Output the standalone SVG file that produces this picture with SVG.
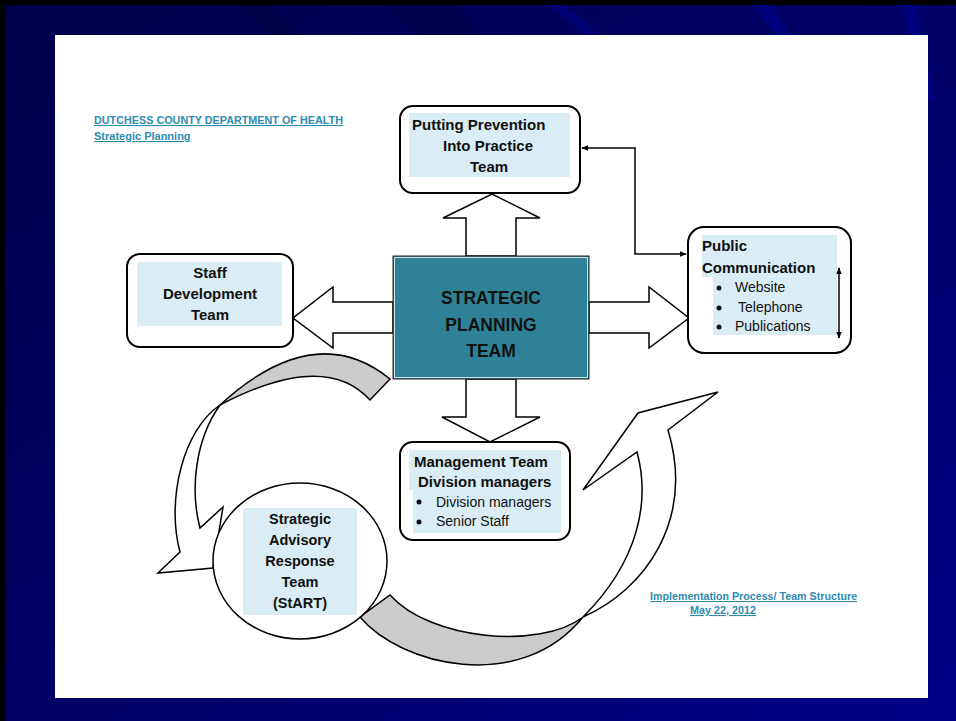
<svg xmlns="http://www.w3.org/2000/svg" width="956" height="721" viewBox="0 0 956 721">
<defs>
<linearGradient id="bg" x1="0" y1="0" x2="1" y2="1">
<stop offset="0" stop-color="#00004a"/>
<stop offset="0.5" stop-color="#000066"/>
<stop offset="1" stop-color="#000088"/>
</linearGradient>
<marker id="ah" viewBox="0 0 10 10" refX="9" refY="5" markerWidth="7" markerHeight="7" orient="auto-start-reverse" markerUnits="userSpaceOnUse">
<path d="M0,1 L10,5 L0,9 Z" fill="#000"/>
</marker>
<style>
.box{fill:#fff;stroke:#000;stroke-width:2}
.lb{fill:#daedf4}
.blk{fill:#fff;stroke:#000;stroke-width:1.5;stroke-linejoin:miter}
.rib{fill:#fff;stroke:#000;stroke-width:1.5;stroke-linejoin:miter}
.grey{fill:#cccccc;stroke:#000;stroke-width:1.5}
.t{font-family:"Liberation Sans",Arial,sans-serif;font-weight:bold;font-size:15px;fill:#111}
.big{font-size:17.5px}
.sm{font-size:14.5px}
.r{font-family:"Liberation Sans",Arial,sans-serif;font-size:14px;fill:#111}
.hd{font-family:"Liberation Sans",Arial,sans-serif;font-weight:bold;font-size:10.8px;fill:#2f8bb0;text-decoration:underline}
.ln{fill:none;stroke:#000;stroke-width:1.5}
</style>
</defs>
<rect x="0" y="0" width="956" height="721" fill="url(#bg)"/>
<g opacity="0.35">
<polygon points="230,0 260,0 300,35 270,35" fill="#000030"/>
<polygon points="380,0 450,0 480,35 420,35" fill="#00003a"/>
<polygon points="540,0 560,0 600,35 585,35" fill="#0000a0"/>
<polygon points="750,0 770,0 790,35 775,35" fill="#0000b0"/>
<polygon points="900,0 915,0 935,100 925,100" fill="#0000b0"/>
</g>
<rect x="0" y="0" width="956" height="5" fill="#000"/>
<rect x="0" y="0" width="5" height="721" fill="#000"/>
<rect x="55" y="35" width="873" height="663" fill="#fff"/>

<g id="header">
<text class="hd" x="94" y="124">DUTCHESS COUNTY DEPARTMENT OF HEALTH</text>
<text class="hd" x="94" y="140" style="font-size:11px">Strategic Planning</text>
</g>
<g id="footer">
<text class="hd" x="650" y="600" style="font-size:10.7px">Implementation Process/ Team Structure</text>
<text class="hd" x="690" y="614">May 22, 2012</text>
</g>

<g id="connectors">
<polygon class="blk" points="466,256 466,218 443,218 492,194 540,218 516,218 516,256"/>
<polygon class="blk" points="589,302 649,302 649,287 689,318 649,348 649,333 589,333"/>
<polygon class="blk" points="393,302 333,302 333,287 293,318 333,348 333,333 393,333"/>
<polygon class="blk" points="466,379 466,417 442,417 490,442 540,417 516,417 516,379"/>
<path class="ln" d="M582,148 H635 V254 H686" marker-start="url(#ah)" marker-end="url(#ah)"/>
<path class="grey" d="M390,379 Q315,318 220,405 Q325,350 370,400 Z"/>
<path class="rib" d="M220,405 C183,430 166,500 180,552 L158,573 L213,568 L223,507 L200,528 C190,490 195,440 220,405 Z"/>
<path class="grey" d="M360,617 C400,665 520,695 583,617 C540,650 430,640 390,595 Z"/>
<path class="rib" d="M583,617 C645,590 695,520 668,430 L718,392 L638,413 L583,490 L637,452 C650,500 640,560 583,617 Z"/>
</g>

<g id="center">
<rect x="393" y="256" width="196" height="123" fill="#2e8196" stroke="#222" stroke-width="1"/>
<rect x="394.5" y="257.5" width="193" height="120" fill="none" stroke="#cfe3ea" stroke-width="1"/>
<text class="t big" x="491" y="304" text-anchor="middle">STRATEGIC</text>
<text class="t big" x="491" y="331" text-anchor="middle">PLANNING</text>
<text class="t big" x="491" y="357" text-anchor="middle">TEAM</text>
</g>

<g id="pipt">
<rect class="box" x="400" y="106" width="180" height="87" rx="13"/>
<rect class="lb" x="409" y="113" width="161" height="64"/>
<text class="t" x="412" y="130">Putting Prevention</text>
<text class="t" x="443" y="151">Into Practice</text>
<text class="t" x="470" y="172">Team</text>
</g>

<g id="staff">
<rect class="box" x="127" y="254" width="166" height="93" rx="13"/>
<rect class="lb" x="137" y="262" width="145" height="64"/>
<text class="t" x="210" y="278" text-anchor="middle">Staff</text>
<text class="t" x="210" y="299" text-anchor="middle">Development</text>
<text class="t" x="210" y="320" text-anchor="middle">Team</text>
</g>

<g id="public">
<rect class="box" x="688" y="227" width="163" height="126" rx="16"/>
<path class="lb" d="M702,235 H837 V335 H713 V277 H702 Z"/>
<text class="t" x="702" y="251">Public</text>
<text class="t" x="702" y="273">Communication</text>
<circle cx="719" cy="288" r="2.5" fill="#111"/>
<circle cx="719" cy="308" r="2.5" fill="#111"/>
<circle cx="719" cy="327" r="2.5" fill="#111"/>
<text class="r" x="735" y="292">Website</text>
<text class="r" x="738" y="312">Telephone</text>
<text class="r" x="735" y="331">Publications</text>
<path class="ln" d="M839,268 V338" marker-start="url(#ah)" marker-end="url(#ah)"/>
</g>

<g id="management">
<rect class="box" x="400" y="442" width="170" height="98" rx="13"/>
<path class="lb" d="M409,450 H561 V533 H413 V490 H409 Z"/>
<text class="t" x="414" y="467">Management Team</text>
<text class="t" x="418" y="487">Division managers</text>
<circle cx="419" cy="502" r="2.5" fill="#111"/>
<circle cx="419" cy="522" r="2.5" fill="#111"/>
<text class="r" x="436" y="507">Division managers</text>
<text class="r" x="436" y="526">Senior Staff</text>
</g>

<g id="start">
<ellipse cx="300" cy="561" rx="87" ry="78" fill="#fff" stroke="#000" stroke-width="1.5"/>
<rect class="lb" x="243" y="508" width="114" height="107"/>
<text class="t sm" x="300" y="524" text-anchor="middle">Strategic</text>
<text class="t sm" x="300" y="545" text-anchor="middle">Advisory</text>
<text class="t sm" x="300" y="566" text-anchor="middle">Response</text>
<text class="t sm" x="300" y="587" text-anchor="middle">Team</text>
<text class="t sm" x="300" y="608" text-anchor="middle">(StART)</text>
</g>
</svg>
